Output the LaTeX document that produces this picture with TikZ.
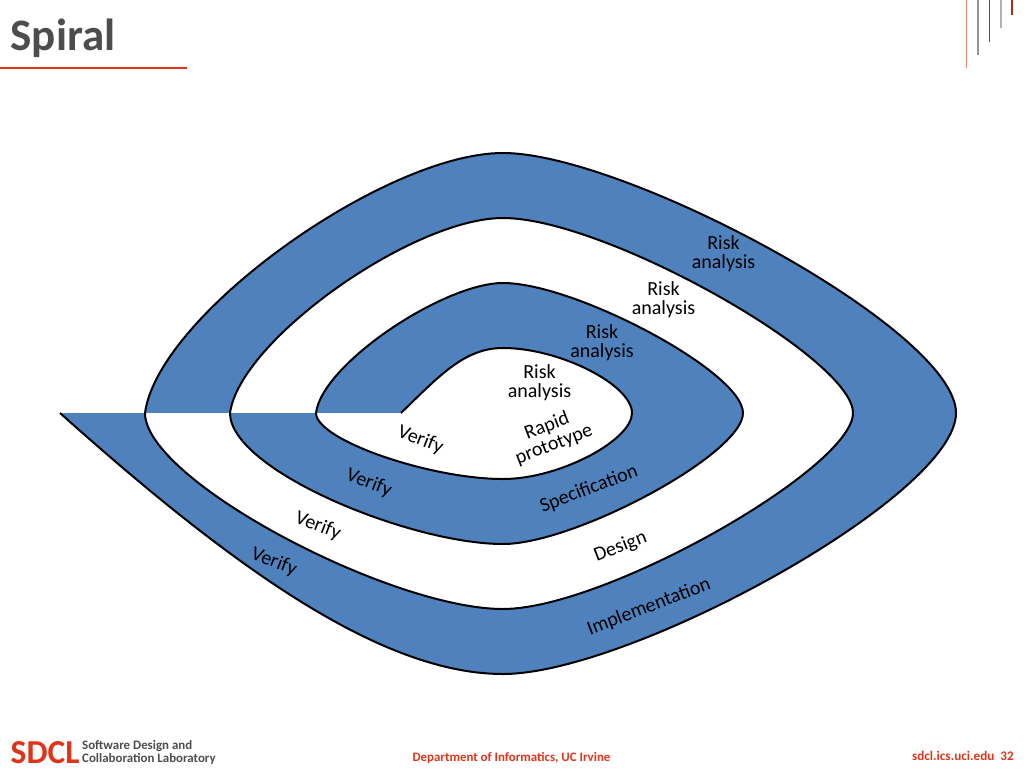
\documentclass[tikz,border=0pt]{standalone}
\usepackage{fontspec}
\setmainfont{Carlito}
\definecolor{bandblue}{HTML}{4F81BD}
\definecolor{sdclred}{HTML}{E0341A}
\definecolor{titlegray}{HTML}{4D4D4D}
\tikzset{
  band/.style={fill=bandblue,draw=none},
  gap/.style={fill=white,draw=none},
  edgeline/.style={draw=black,line width=2pt,line join=round},
  lbl/.style={font=\fontsize{20}{19.5}\selectfont,align=center,inner sep=0pt,text=black},
  tick/.style={line width=1.3pt},
}
% one curve for each turn of the spiral
\def\turnA{(145,413) .. controls (158,315) and (385,153) .. (503,153) .. controls (625,153) and (956,330) .. (956,413) .. controls (956,496) and (630,674) .. (503,674) .. controls (380,674) and (230,565) .. (60,413)}
\def\turnB{(230,413) .. controls (240,340) and (413,218) .. (503,218) .. controls (605,218) and (853,358) .. (853,413) .. controls (853,468) and (605,609) .. (503,609) .. controls (390,609) and (145,480) .. (145,413)}
\def\turnC{(316,413) .. controls (322,364) and (444,283) .. (503,283) .. controls (575,283) and (743,372) .. (743,413) .. controls (743,454) and (575,544) .. (503,544) .. controls (410,544) and (230,470) .. (230,413)}
\def\turnD{(401,413) .. controls (440,375) and (465,348) .. (503,348) .. controls (560,348) and (632,385) .. (632,413) .. controls (632,440) and (560,479) .. (503,479) .. controls (430,479) and (316,440) .. (316,413)}
\begin{document}
\begin{tikzpicture}[x=1pt,y=-1pt]
  \useasboundingbox (0,0) rectangle (1024,768);
  % bands
  \fill[band] \turnA -- cycle;
  \fill[gap] \turnB -- cycle;
  \fill[band] \turnC -- cycle;
  \fill[gap] \turnD -- cycle;
  \draw[edgeline] \turnA;
  \draw[edgeline] \turnB;
  \draw[edgeline] \turnC;
  \draw[edgeline] \turnD;
  % labels
  \node[lbl] (risk1) at (539.5,382.5) {Risk\\analysis};
  \node[lbl] (risk2) at (602,342.5) {Risk\\analysis};
  \node[lbl] (risk3) at (663.5,299.5) {Risk\\analysis};
  \node[lbl] (risk4) at (723.5,253.5) {Risk\\analysis};
  \node[lbl,rotate=21] (proto) at (550.5,435.5) {Rapid\\prototype};
  \node[lbl,rotate=-21] (verify1) at (420.5,440) {Verify};
  \node[lbl,rotate=-21] (verify2) at (369,483) {Verify};
  \node[lbl,rotate=-21] (verify3) at (318,526) {Verify};
  \node[lbl,rotate=-21] (verify4) at (274,562) {Verify};
  \node[lbl,rotate=21] (spec) at (589,489) {Specification};
  \node[lbl,rotate=21] (design) at (620.5,547) {Design};
  \node[lbl,rotate=21] (impl) at (649,607) {Implementation};
  % slide frame
  \node[anchor=base west,inner sep=0pt,text=titlegray,font=\fontsize{45}{45}\selectfont\bfseries] (title) at (10.5,50) {Spiral};
  \draw[sdclred,line width=1.5pt] (0,68) -- (187,68);
  \draw[tick,draw=sdclred!60] (966.7,0) -- (966.7,68);
  \draw[tick,draw=gray!85] (978,0) -- (978,55);
  \draw[tick,draw=sdclred!80!black] (989.3,0) -- (989.3,42);
  \draw[tick,draw=gray!60] (1001,0) -- (1001,28);
  \draw[tick,draw=sdclred!80!black] (1012,0) -- (1012,15);
  \node[anchor=base west,inner sep=0pt,text=sdclred,font=\fontsize{33.5}{33.5}\selectfont\bfseries] (sdcl) at (10.5,763) {SDCL};
  \node[anchor=base west,inner sep=0pt,text=titlegray,font=\fontsize{12.9}{13}\selectfont\bfseries] (lab1) at (82,749) {Software Design and};
  \node[anchor=base west,inner sep=0pt,text=titlegray,font=\fontsize{12.9}{13}\selectfont\bfseries] (lab2) at (82,762) {Collaboration Laboratory};
  \node[anchor=base,inner sep=0pt,text=sdclred,font=\fontsize{12.9}{13}\selectfont\bfseries] (dept) at (511.5,761.5) {Department of Informatics, UC Irvine};
  \node[anchor=base east,inner sep=0pt,text=sdclred,font=\fontsize{13.2}{13}\selectfont\bfseries] (site) at (1014,760) {sdcl.ics.uci.edu\ \ 32};
\end{tikzpicture}
\end{document}
